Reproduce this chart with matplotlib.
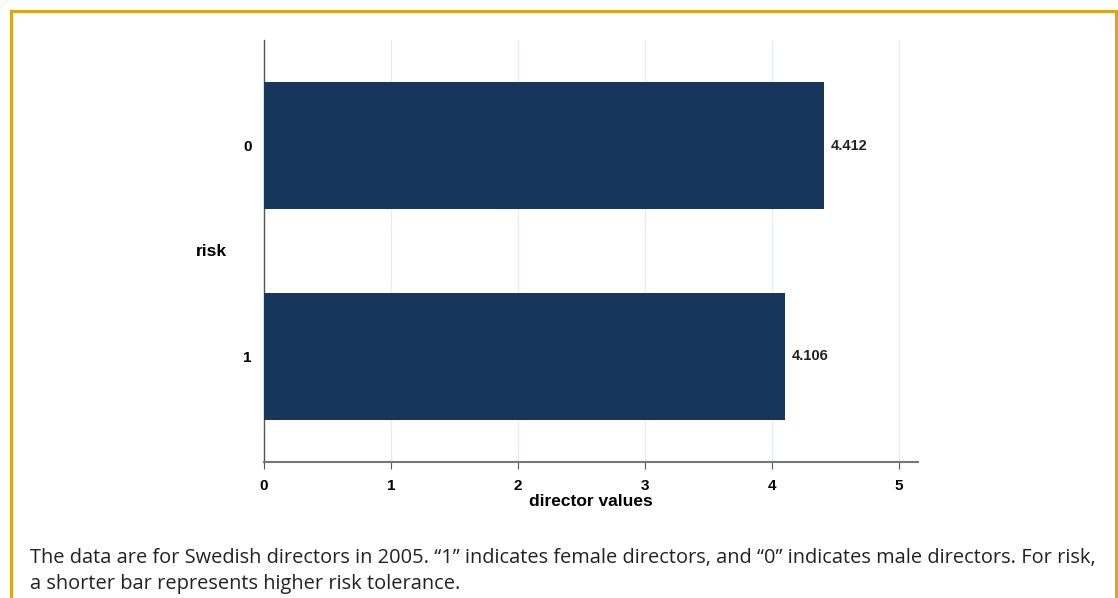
import matplotlib
matplotlib.use("Agg")
import matplotlib.pyplot as plt
from matplotlib.patches import Rectangle

# data
categories = ["0", "1"]
values = [4.412, 4.106]
x_ticks = [0, 1, 2, 3, 4, 5]

caption = ("The data are for Swedish directors in 2005. \u201c1\u201d indicates female directors, "
           "and \u201c0\u201d indicates male directors. For risk,\n"
           "a shorter bar represents higher risk tolerance.")

W, H = 1118, 598
fig = plt.figure(figsize=(W / 100, H / 100), dpi=100)
plt.rcParams['font.family'] = ['Liberation Sans', 'DejaVu Sans']

# gold frame
fig.patches.append(Rectangle((11 / W, -0.05), (1116 - 11) / W, 1 - 11 / H + 0.05,
                             transform=fig.transFigure, fill=False,
                             ec="#DBA51E", lw=2.2))

ax = fig.add_axes([264 / W, 1 - 462 / H, (918 - 264) / W, (462 - 40) / H])
pos = list(range(len(categories)))
ax.barh(pos, values, height=0.6, color="#16365C", zorder=3)

for p, v in zip(pos, values):
    ax.text(v + 0.05, p, f"{v:.3f}", va="center", ha="left",
            fontsize=10.5, fontweight="bold", color="#222222")

ax.set_ylim(1.5, -0.5)
ax.set_xlim(0, 5.15)
ax.set_yticks(pos)
ax.set_yticklabels(categories, fontsize=11, fontweight="bold")
ax.set_xticks(x_ticks)
ax.set_xticklabels([str(t) for t in x_ticks], fontsize=11, fontweight="bold")
ax.tick_params(axis="y", length=0, pad=9)
ax.tick_params(axis="x", length=5, color="#555555", pad=7)

ax.grid(axis="x", color="#E3ECF0", lw=1, zorder=0)
for s in ["top", "right"]:
    ax.spines[s].set_visible(False)
ax.spines["left"].set_color("#555555")
ax.spines["bottom"].set_color("#777777")
ax.spines["left"].set_linewidth(1)
ax.spines["bottom"].set_linewidth(1.5)

ax.set_xlabel("director values", fontsize=12.5, fontweight="bold", labelpad=1)
fig.text(211 / W, 1 - 252 / H, "risk", ha="center", va="center",
         fontsize=12.5, fontweight="bold")

fig.text(30 / W, 1 - 571 / H, caption, ha="left", va="center",
         fontsize=14.4, family=["Open Sans", "DejaVu Sans"],
         color="#222222", linespacing=1.4)

plt.savefig("out.png", dpi=100)
plt.close()
